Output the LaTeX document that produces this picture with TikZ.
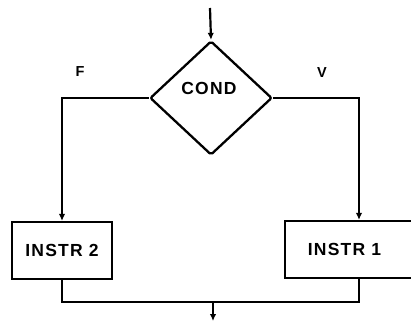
\documentclass[tikz,border=0pt]{standalone}
\usepackage{fontspec}
\newfontfamily\flowfont[LetterSpace=7]{Liberation Sans}
\usetikzlibrary{shapes.geometric, arrows.meta, positioning, calc}

\begin{document}
\begin{tikzpicture}[x=1pt, y=-1pt,
  every node/.style={font=\flowfont\bfseries\fontsize{17.5}{20}\selectfont},
  test/.style={diamond, draw=black, line width=2.3pt, minimum width=122pt,
               minimum height=114pt, inner sep=0pt, rounded corners=2pt},
  instr/.style={rectangle, draw=black, line width=2.2pt, minimum height=57pt,
                inner sep=0pt},
  branch/.style={font=\flowfont\bfseries\fontsize{14.5}{16}\selectfont},
  arr/.style={-{Latex[length=7pt, width=6.5pt]}, line width=2.2pt, black},
  line/.style={line width=2.2pt, black}
]
  \useasboundingbox (0,0) rectangle (411,323);

  % -- entry and test --------------------------------------------
  \coordinate (entry) at (210,8);
  \node[test] (cond) at (211,98) {};
  \node (condtxt) at (209,88) {COND};

  % -- branch labels ---------------------------------------------
  \node[branch] (flab) at (80,72) {F};
  \node[branch] (vlab) at (322,73) {V};

  % -- instructions ----------------------------------------------
  \node[instr, minimum width=100pt] (instr2) at (62,250.5) {INSTR 2};
  \node[instr, minimum width=127pt] (instr1) at (348.5,249.5) {\hspace*{-8pt}INSTR 1};

  % -- join and exit ---------------------------------------------
  \coordinate (join) at (213,302);
  \coordinate (exit) at (213,321);

  % -- arrows ----------------------------------------------------
  \draw[arr] (entry) -- (cond.north);
  \draw[arr] (cond.west) -| (instr2.north);
  \draw[arr] (cond.east) -| ([xshift=10.5pt]instr1.north);
  \draw[line] (instr2.south) |- (join) -| ([xshift=10.5pt]instr1.south);
  \draw[arr] (join) -- (exit);

\end{tikzpicture}
\end{document}
